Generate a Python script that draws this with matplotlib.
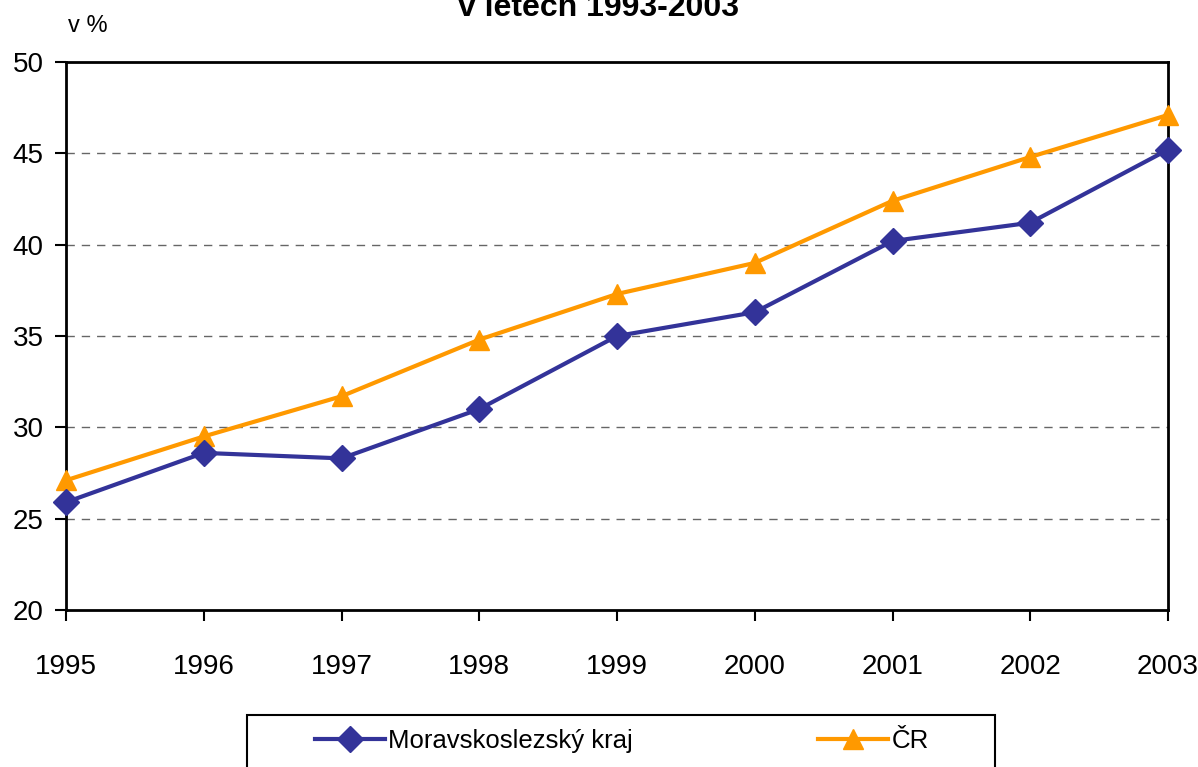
import matplotlib.pyplot as plt
from matplotlib.patches import Rectangle

plt.rcParams['font.family'] = ['Liberation Sans', 'DejaVu Sans']

years = [1995, 1996, 1997, 1998, 1999, 2000, 2001, 2002, 2003]
msk = [25.9, 28.6, 28.3, 31.0, 35.0, 36.3, 40.2, 41.2, 45.2]
cr = [27.1, 29.5, 31.7, 34.8, 37.3, 39.0, 42.4, 44.8, 47.1]
y_ticks = [20, 25, 30, 35, 40, 45, 50]

W, H = 1198, 767
fig = plt.figure(figsize=(W / 100, H / 100), dpi=100)
ax = fig.add_axes([66 / W, 1 - 610 / H, (1168 - 66) / W, (610 - 62) / H])

ax.plot(years, msk, color='#333399', linewidth=3, marker='D', markersize=13,
        label='Moravskoslezský kraj', zorder=4, clip_on=False)
ax.plot(years, cr, color='#FF9900', linewidth=3, marker='^', markersize=15,
        label='ČR', zorder=3, clip_on=False)

ax.set_xlim(1995, 2003)
ax.set_ylim(20, 50)
ax.set_yticks(y_ticks)
ax.set_xticks(years)
ax.tick_params(axis='both', labelsize=20, direction='out', length=8, width=1.5)
ax.tick_params(axis='x', pad=24)
ax.tick_params(axis='y', pad=8)
for s in ax.spines.values():
    s.set_linewidth(2)
for y in y_ticks[1:-1]:
    ax.axhline(y, color='#666666', linestyle=(0, (6, 5)), linewidth=1, zorder=1)

fig.text(0.5, 1 - 16 / H, 'v letech 1993-2003', ha='center', va='baseline',
         fontsize=23, fontweight='bold')
fig.text(68 / W, 1 - 26 / H, 'v %', ha='left', va='center', fontsize=17)

# legend box, cut by the bottom edge like in the original
fig.patches.append(Rectangle((247 / W, -10 / H), (995 - 247) / W, (H - 715 + 10) / H,
                             transform=fig.transFigure, fill=False,
                             edgecolor='black', linewidth=1.5))
leg = fig.legend(loc='center', bbox_to_anchor=(622 / W, 1 - 741 / H), ncol=2,
                 fontsize=18.5, frameon=False, handlelength=2.7, handletextpad=0.15,
                 columnspacing=7.2, borderaxespad=0)

fig.savefig('out.png', dpi=100)
